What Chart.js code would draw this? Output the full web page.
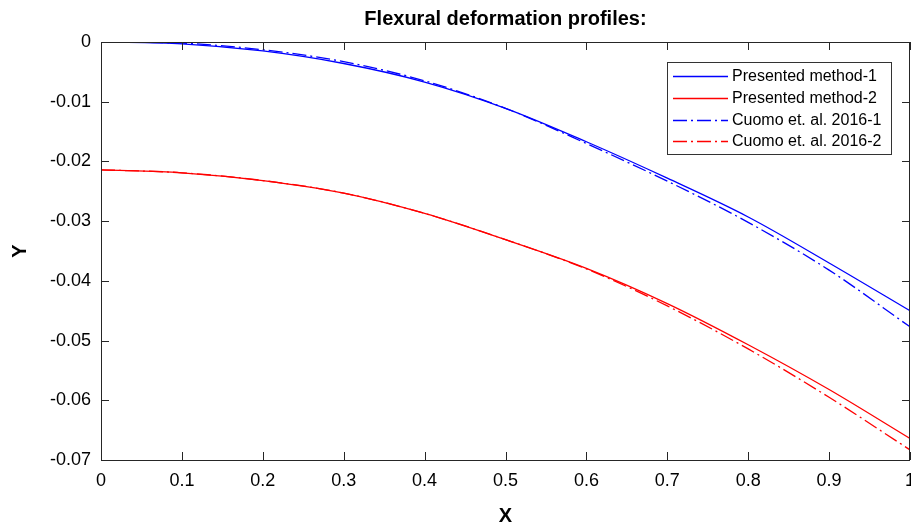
<!DOCTYPE html>
<html>
<head>
<meta charset="utf-8">
<script src="https://cdn.jsdelivr.net/npm/chart.js@4/dist/chart.umd.min.js"></script>
<style>
	html, body { margin: 0; padding: 0; background: #fff; }
	#wrap { width: 911px; height: 525px; }
</style>
</head>
<body>
<div id="wrap"><canvas id="chart"></canvas></div>
<script>
// values
const xValues = [0, 0.1, 0.2, 0.3, 0.4, 0.5, 0.6, 0.7, 0.8, 0.9, 1.0];
const presented1 = [0, -0.0003, -0.0015, -0.0036, -0.0067, -0.0111, -0.0167, -0.0228, -0.0293, -0.0370, -0.0450];
const presented2 = [-0.0214, -0.0219, -0.0232, -0.0253, -0.0287, -0.0331, -0.0379, -0.0438, -0.0507, -0.0582, -0.0664];
const cuomo1 = [0, -0.0002, -0.0013, -0.0033, -0.0065, -0.0111, -0.0170, -0.0233, -0.0302, -0.0382, -0.0477];
const cuomo2 = [-0.0214, -0.0219, -0.0232, -0.0253, -0.0287, -0.0331, -0.0380, -0.0442, -0.0514, -0.0595, -0.0683];

const seriesNames = ["Presented method-1", "Presented method-2", "Cuomo et. al. 2016-1", "Cuomo et. al. 2016-2"];
const xTicks = [0, 0.1, 0.2, 0.3, 0.4, 0.5, 0.6, 0.7, 0.8, 0.9, 1];
const yTicks = [0, -0.01, -0.02, -0.03, -0.04, -0.05, -0.06, -0.07];

const axisColor = "#262626";
const dashDot = [14, 4, 2, 4];
const fontName = "'Liberation Sans', Arial, sans-serif";

function toPoints(ys) {
	return xValues.map((x, i) => ({ x: x, y: ys[i] }));
}

function makeSet(label, ys, color, dash) {
	return {
		label: label,
		data: toPoints(ys),
		borderColor: color,
		backgroundColor: color,
		borderWidth: 1.3,
		borderDash: dash,
		pointRadius: 0,
		cubicInterpolationMode: "monotone",
		fill: false
	};
}

// box, inward ticks, title, axis titles and legend in MATLAB style
const matlabLook = {
	id: "matlabLook",
	afterDatasetsDraw(chart) {
		const ctx = chart.ctx;
		const a = chart.chartArea;
		const xs = chart.scales.x;
		const ys = chart.scales.y;
		const tl = 8;

		ctx.save();
		ctx.strokeStyle = axisColor;
		ctx.lineWidth = 1;
		ctx.setLineDash([]);
		ctx.beginPath();
		for (const v of xTicks) {
			const px = Math.round(xs.getPixelForValue(v)) + 0.5;
			ctx.moveTo(px, a.bottom); ctx.lineTo(px, a.bottom - tl);
			ctx.moveTo(px, a.top); ctx.lineTo(px, a.top + tl);
		}
		for (const v of yTicks) {
			const py = Math.round(ys.getPixelForValue(v)) + 0.5;
			ctx.moveTo(a.left, py); ctx.lineTo(a.left + tl, py);
			ctx.moveTo(a.right, py); ctx.lineTo(a.right - tl, py);
		}
		ctx.stroke();
		ctx.strokeRect(Math.round(a.left) + 0.5, Math.round(a.top) + 0.5,
			Math.round(a.right - a.left) - 1, Math.round(a.bottom - a.top));

		// titles
		ctx.fillStyle = "#000";
		ctx.textAlign = "center";
		ctx.textBaseline = "alphabetic";
		ctx.font = "bold 20px " + fontName;
		const cx = (a.left + a.right) / 2;
		ctx.fillText("Flexural deformation profiles:", cx, 25);
		ctx.fillText("X", cx, 522);
		ctx.save();
		ctx.translate(26, (a.top + a.bottom) / 2);
		ctx.rotate(-Math.PI / 2);
		ctx.fillText("Y", 0, 0);
		ctx.restore();

		// legend
		const lx = 667, ly = 62, lw = 224, lh = 92;
		ctx.fillStyle = "#fff";
		ctx.fillRect(lx, ly, lw, lh);
		ctx.strokeStyle = "#333";
		ctx.strokeRect(lx + 0.5, ly + 0.5, lw, lh);
		ctx.font = "16px " + fontName;
		ctx.textAlign = "left";
		ctx.textBaseline = "middle";
		const rows = [76, 98, 120, 141];
		chart.data.datasets.forEach((ds, i) => {
			ctx.strokeStyle = ds.borderColor;
			ctx.lineWidth = 1.3;
			ctx.setLineDash(ds.borderDash || []);
			ctx.beginPath();
			ctx.moveTo(673, rows[i] + 0.5);
			ctx.lineTo(728, rows[i] + 0.5);
			ctx.stroke();
			ctx.setLineDash([]);
			ctx.fillStyle = "#000";
			ctx.fillText(ds.label, 732, rows[i] + 1);
		});
		ctx.restore();
	}
};

new Chart(document.getElementById("chart"), {
	type: "line",
	data: {
		datasets: [
			makeSet(seriesNames[0], presented1, "#0000ff", []),
			makeSet(seriesNames[1], presented2, "#ff0000", []),
			makeSet(seriesNames[2], cuomo1, "#0000ff", dashDot),
			makeSet(seriesNames[3], cuomo2, "#ff0000", dashDot)
		]
	},
	options: {
		responsive: true,
		maintainAspectRatio: false,
		animation: false,
		layout: { padding: { top: 42, right: 1, left: 0, bottom: 0 } },
		plugins: {
			legend: { display: false },
			title: { display: false },
			tooltip: { enabled: false }
		},
		scales: {
			x: {
				type: "linear",
				min: 0,
				max: 1,
				grid: { display: false, drawTicks: false },
				border: { display: false },
				afterBuildTicks: (s) => { s.ticks = xTicks.map(v => ({ value: v })); },
				afterFit: (s) => { s.height = 65; s.paddingLeft = 0; s.paddingRight = 0; },
				ticks: {
					color: "#000",
					padding: 10,
					maxRotation: 0,
					autoSkip: false,
					font: { family: fontName, size: 18 },
					callback: (v) => String(Number(v.toFixed(1)))
				}
			},
			y: {
				min: -0.07,
				max: 0,
				grid: { display: false, drawTicks: false },
				border: { display: false },
				afterBuildTicks: (s) => { s.ticks = yTicks.map(v => ({ value: v })); },
				afterFit: (s) => { s.width = 101; s.paddingTop = 0; s.paddingBottom = 0; },
				ticks: {
					color: "#000",
					padding: 10,
					autoSkip: false,
					font: { family: fontName, size: 18 },
					callback: (v) => v === 0 ? "0" : v.toFixed(2)
				}
			}
		}
	},
	plugins: [matlabLook]
});
</script>
</body>
</html>
